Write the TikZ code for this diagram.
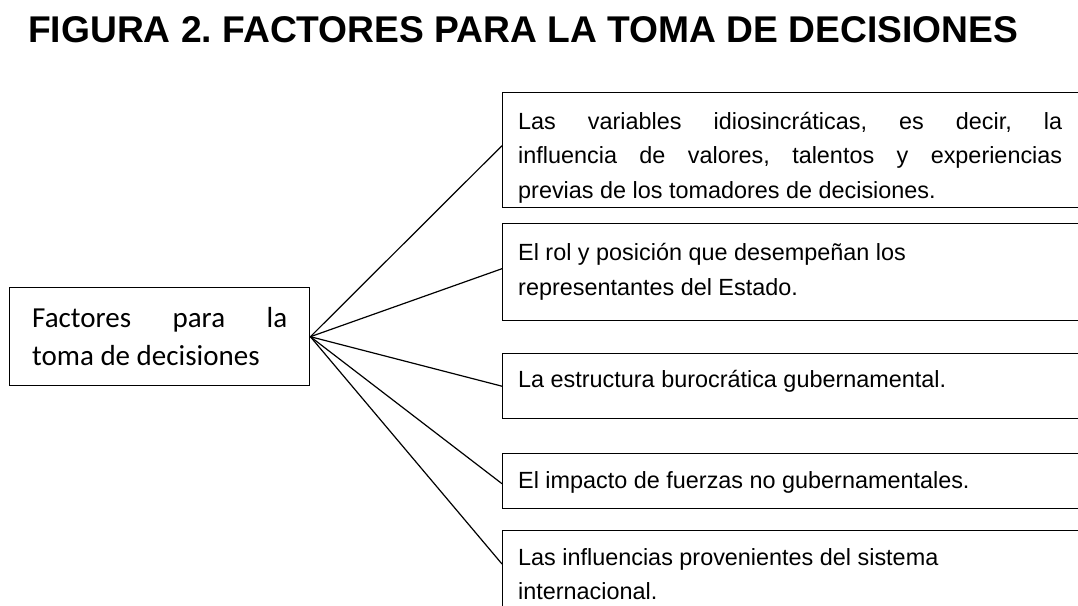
\documentclass[tikz,border=0pt]{standalone}
\usepackage{fontspec}
\setmainfont{Liberation Sans}
\newfontfamily\calibrifont{Carlito}
\hbadness=10000
\frenchspacing
\tikzset{
  box/.style={draw, line width=1.4pt, inner sep=0pt, anchor=north west, minimum width=600pt},
  txt/.style={anchor=base west, inner sep=0pt},
  link/.style={draw, line width=1.2pt}
}
\begin{document}
\begin{tikzpicture}[x=1pt,y=-1pt]
\useasboundingbox (0,0) rectangle (1078,605);
\clip (0,0) rectangle (1078,605);
\fill[white] (0,0) rectangle (1078,605);
% title
\node[txt] (title) at (28,42) {\fontsize{37.2pt}{40pt}\selectfont\bfseries FIGURA 2. FACTORES PARA LA TOMA DE DECISIONES};
% left box
\node[draw, line width=1.4pt, inner sep=0pt, anchor=north west, minimum width=300pt, minimum height=98pt] (f) at (9,287) {};
\node[txt] (ft) at (32,327) {\parbox[t]{255pt}{\calibrifont\fontsize{29pt}{38pt}\selectfont Factores para la\linebreak toma de decisiones}};
% right boxes
\node[box, minimum height=115pt] (b1) at (502,92) {};
\node[box, minimum height=97pt] (b2) at (502,223) {};
\node[box, minimum height=65pt] (b3) at (502,353) {};
\node[box, minimum height=55pt] (b4) at (502,453) {};
\node[box, minimum height=120pt] (b5) at (502,530) {};
\node[txt] (t1) at (518,129) {\parbox[t]{544pt}{\fontsize{23.4pt}{34.5pt}\selectfont Las variables idiosincráticas, es decir, la\linebreak influencia de valores, talentos y experiencias\linebreak previas de los tomadores de decisiones.}};
\node[txt] (t2) at (518,260) {\parbox[t]{544pt}{\raggedright\fontsize{23.4pt}{35pt}\selectfont El rol y posición que desempeñan los\\representantes del Estado.}};
\node[txt] (t3) at (518,387) {\fontsize{23.4pt}{35pt}\selectfont La estructura burocrática gubernamental.};
\node[txt] (t4) at (518,488) {\fontsize{23.4pt}{35pt}\selectfont El impacto de fuerzas no gubernamentales.};
\node[txt] (t5) at (518,565) {\parbox[t]{544pt}{\raggedright\fontsize{23.4pt}{34pt}\selectfont Las influencias provenientes del sistema\\internacional.}};
% connectors
\coordinate (c5) at ([yshift=-34pt]b5.north west);
\draw[link] (f.east) -- ([yshift=4.5pt]b1.west);
\draw[link] (f.east) -- ([yshift=3.5pt]b2.west);
\draw[link] (f.east) -- (b3.west);
\draw[link] (f.east) -- ([yshift=-2.5pt]b4.west);
\draw[link] (f.east) -- (c5);
\end{tikzpicture}
\end{document}
